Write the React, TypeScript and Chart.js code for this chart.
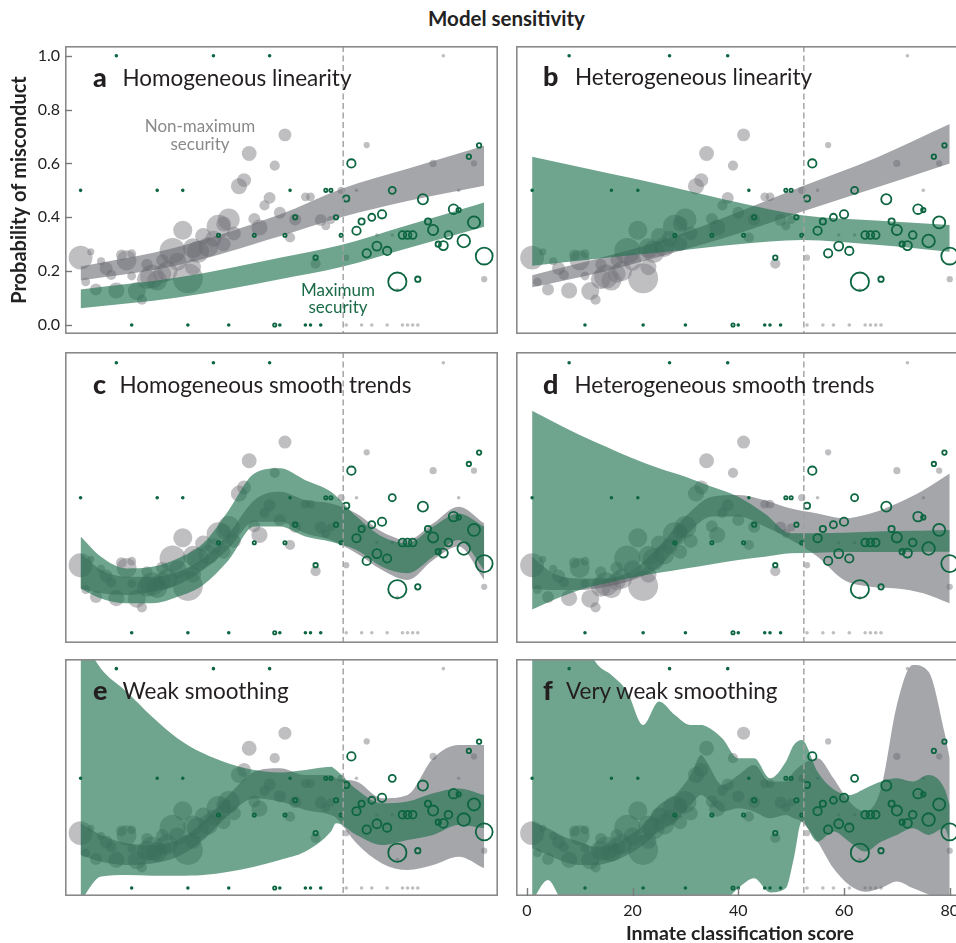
import React, { useEffect, useRef } from "react";
import { Chart, registerables } from "chart.js";

Chart.register(...registerables);

// ---------------- data ----------------
// Maximum-security inmates: score, misconduct rate, group size
const maxScore = [8, 27, 38, 1, 16, 21, 42, 49, 50, 11, 22, 30, 39, 40, 45, 46, 48, 28, 35, 41, 52, 43, 51, 47,
  54, 53, 62, 68, 77, 79, 60, 58, 56, 55, 74, 75, 69, 70, 73, 78, 64, 65, 66, 71, 72, 76, 59, 57, 61, 80, 63, 67];
const maxRate = [1, 1, 1, 0.5, 0.5, 0.5, 0.5, 0.5, 0.5, 0, 0, 0, 0, 0, 0, 0, 0, 0.333, 0.333, 0.333, 0.333, 0.4, 0.4, 0.25,
  0.6, 0.47, 0.5, 0.467, 0.625, 0.667, 0.411, 0.4, 0.384, 0.35, 0.43, 0.427, 0.384, 0.353, 0.334, 0.381, 0.334, 0.334, 0.334,
  0.3, 0.295, 0.312, 0.293, 0.266, 0.275, 0.256, 0.161, 0.17];
const maxCount = [1, 1, 1, 1, 1, 1, 1, 2, 2, 1, 1, 1, 2, 1, 1, 1, 1, 2, 2, 2, 2, 3, 3, 3,
  8, 5, 6, 11, 3, 3, 8, 6, 5, 8, 10, 3, 5, 11, 7, 15, 7, 7, 7, 4, 9, 16, 9, 8, 8, 27, 31, 4];

// Non-maximum-security inmates
const nonMaxScore = [1, 2, 3, 4, 5, 6, 7, 8, 9, 10, 11, 12, 13, 14, 15, 16, 17, 18, 19,
  21, 22, 23, 24, 26, 27, 28, 30, 31, 32, 33, 34, 35, 36, 37, 38, 39, 40, 41, 42, 43, 45, 46, 47, 48, 49, 50, 52,
  53, 55, 57, 59, 62, 63, 70, 75, 78, 80, 72, 53, 56, 58, 61, 64, 65, 66, 67,
  20, 23, 25, 29, 29, 14, 17, 11];
const nonMaxRate = [0.25, 0.16, 0.272, 0.132, 0.237, 0.21, 0.186, 0.128, 0.26, 0.24, 0.182, 0.126, 0.094, 0.17, 0.18, 0.165, 0.19, 0.2, 0.275,
  0.352, 0.173, 0.285, 0.272, 0.29, 0.32, 0.365, 0.392, 0.34, 0.515, 0.538, 0.637, 0.394, 0.362, 0.444, 0.472, 0.592, 0.417, 0.706, 0.325,
  0.392, 0.476, 0.476, 0.228, 0.39, 0.368, 0.39, 0.5,
  0.25, 0.5, 0.668, 0.334, 0.334, 0.13, 0.6, 0.5, 0.6, 0.17, 1.0, 0, 0, 0, 0, 0, 0, 0, 0,
  0.235, 0.215, 0.33, 0.3, 0.375, 0.225, 0.24, 0.265];
const nonMaxCount = [44, 6, 4, 11, 5, 13, 8, 20, 9, 31, 6, 25, 8, 31, 44, 31, 25, 31, 52,
  28, 69, 31, 37, 31, 20, 44, 37, 15, 20, 15, 17, 11, 20, 8, 11, 8, 11, 13, 8, 11, 6, 6, 8, 11, 6, 5, 4,
  3, 1, 3, 1, 1, 1, 4, 1, 3, 3, 1, 1, 1, 1, 1, 1, 1, 1, 1,
  25, 20, 20, 15, 17, 10, 12, 6];

const cutoffScore = 52.4;

const xTickValues = [0, 20, 40, 60, 80];
const xTickLabels = ["0", "20", "40", "60", "80"];
const yTickValues = [0, 0.2, 0.4, 0.6, 0.8, 1.0];
const yTickLabels = ["0.0", "0.2", "0.4", "0.6", "0.8", "1.0"];

// ---- fitted bands (lower / upper) per panel ----
// a: homogeneous linearity
const aX = [1, 20, 40, 52, 65, 80];
const aNonMaxLo = [0.165, 0.222, 0.33, 0.4, 0.46, 0.517];
const aNonMaxHi = [0.217, 0.29, 0.41, 0.505, 0.58, 0.666];
const aMaxLo = [0.062, 0.102, 0.17, 0.215, 0.285, 0.365];
const aMaxHi = [0.132, 0.176, 0.25, 0.297, 0.37, 0.455];
// b: heterogeneous linearity
const bX = [1, 15, 28, 40, 52, 66, 80];
const bNonMaxLo = [0.14, 0.2, 0.27, 0.34, 0.421, 0.51, 0.6];
const bNonMaxHi = [0.185, 0.255, 0.33, 0.42, 0.514, 0.62, 0.746];
const bMaxLo = [0.22, 0.25, 0.275, 0.3, 0.316, 0.298, 0.272];
const bMaxHi = [0.625, 0.565, 0.51, 0.455, 0.408, 0.388, 0.371];
// c: homogeneous smooth trends
const cX = [1, 5, 10, 15, 20, 25, 30, 35, 40, 45, 50, 55, 60, 65, 70, 75, 80];
const cNonMaxLo = [0.164, 0.146, 0.14, 0.152, 0.177, 0.232, 0.312, 0.411, 0.411, 0.368, 0.343, 0.294, 0.232, 0.195, 0.269, 0.319, 0.195];
const cNonMaxHi = [0.294, 0.232, 0.207, 0.207, 0.226, 0.275, 0.368, 0.491, 0.522, 0.491, 0.479, 0.442, 0.374, 0.343, 0.405, 0.467, 0.405];
const cMaxLo = [0.164, 0.127, 0.109, 0.109, 0.133, 0.177, 0.269, 0.393, 0.393, 0.356, 0.337, 0.306, 0.244, 0.22, 0.281, 0.343, 0.232];
const cMaxHi = [0.356, 0.281, 0.238, 0.244, 0.275, 0.331, 0.454, 0.59, 0.609, 0.565, 0.522, 0.43, 0.356, 0.331, 0.393, 0.442, 0.393];
// d: heterogeneous smooth trends
const dX = [1, 5, 10, 15, 20, 25, 30, 35, 40, 45, 50, 55, 60, 65, 70, 75, 80];
const dNonMaxLo = [0.164, 0.158, 0.158, 0.17, 0.195, 0.244, 0.356, 0.43, 0.43, 0.393, 0.343, 0.281, 0.195, 0.17, 0.164, 0.146, 0.109];
const dNonMaxHi = [0.281, 0.22, 0.201, 0.201, 0.232, 0.319, 0.43, 0.504, 0.51, 0.491, 0.46, 0.442, 0.424, 0.442, 0.479, 0.528, 0.59];
const dMaxLo = [0.086, 0.121, 0.158, 0.183, 0.205, 0.222, 0.238, 0.254, 0.269, 0.281, 0.294, 0.296, 0.299, 0.299, 0.299, 0.3, 0.3];
const dMaxHi = [0.822, 0.781, 0.732, 0.689, 0.646, 0.609, 0.578, 0.541, 0.504, 0.442, 0.368, 0.368, 0.37, 0.374, 0.377, 0.378, 0.38];
// e: weak smoothing
const eX = [1, 5, 10, 15, 20, 25, 30, 35, 40, 45, 50, 51, 55, 60, 65, 70, 75, 80];
const eNonMaxLo = [0.15, 0.12, 0.105, 0.112, 0.143, 0.219, 0.333, 0.409, 0.394, 0.356, 0.333, 0.32, 0.204, 0.112, 0.082, 0.105, 0.143, 0.09];
const eNonMaxHi = [0.295, 0.242, 0.204, 0.196, 0.219, 0.302, 0.424, 0.53, 0.546, 0.515, 0.515, 0.5, 0.485, 0.409, 0.424, 0.591, 0.652, 0.652];
const eMaxLo = [-0.06, 0.052, 0.059, 0.056, 0.056, 0.059, 0.074, 0.097, 0.128, 0.166, 0.257, 0.295, 0.242, 0.196, 0.219, 0.242, 0.287, 0.272];
const eMaxHi = [1.15, 1.0, 0.895, 0.781, 0.682, 0.614, 0.568, 0.538, 0.527, 0.538, 0.553, 0.538, 0.45, 0.386, 0.394, 0.432, 0.454, 0.424];
// f: very weak smoothing
const fX = [1, 4, 7, 10, 13, 16, 19, 22, 25, 28, 31, 33, 34, 37, 40, 43, 46, 49, 50.5, 52, 55, 58, 61, 64, 67, 70, 73, 76, 79, 80];
const fNonMaxLo = [0.181, 0.15, 0.12, 0.105, 0.105, 0.12, 0.15, 0.196, 0.257, 0.302, 0.378, 0.424, 0.409, 0.348, 0.363, 0.348, 0.318, 0.333, 0.318, 0.302,
  0.211, 0.09, 0.014, -0.017, 0.0, 0.03, 0.0, -0.03, -0.06, -0.04];
const fNonMaxHi = [0.302, 0.272, 0.234, 0.211, 0.188, 0.196, 0.234, 0.287, 0.378, 0.424, 0.515, 0.606, 0.576, 0.47, 0.515, 0.561, 0.485, 0.485, 0.53, 0.561,
  0.591, 0.5, 0.394, 0.348, 0.454, 0.834, 1.017, 0.986, 0.71, 0.591];
const fMaxLo = [-0.06, 0.036, -0.06, -0.06, -0.06, -0.06, -0.06, -0.06, -0.06, -0.06, -0.06, -0.06, -0.06, -0.06, 0.0, 0.044, -0.02, 0.0, 0.135, 0.302,
  0.211, 0.257, 0.211, 0.166, 0.211, 0.242, 0.272, 0.242, 0.272, 0.211];
const fMaxHi = [1.2, 1.2, 1.2, 1.2, 1.03, 0.971, 0.895, 0.743, 0.85, 0.789, 0.743, 0.743, 0.736, 0.682, 0.591, 0.591, 0.5, 0.576, 0.652, 0.675,
  0.53, 0.45, 0.424, 0.454, 0.485, 0.5, 0.485, 0.515, 0.454, 0.378];

const panelLetters = ["a", "b", "c", "d", "e", "f"];
const panelTitles = [
  "Homogeneous linearity",
  "Heterogeneous linearity",
  "Homogeneous smooth trends",
  "Heterogeneous smooth trends",
  "Weak smoothing",
  "Very weak smoothing",
];

// ---------------- styling / layout ----------------
const FONT = "Lato, 'Open Sans', 'DejaVu Sans', sans-serif";
const GREEN_FILL = "rgba(30,112,78,0.64)";
const GRAY_FILL = "rgba(100,101,108,0.58)";
const GRAY_POINT = "rgba(118,118,126,0.47)";
const GREEN_STROKE = "#0d6641";
const X_MIN = -2.05;
const X_MAX = 82.7;

const ROW_Y = [
  { min: -0.0334, max: 1.036 },
  { min: -0.038, max: 1.0396 },
  { min: -0.0365, max: 1.044 },
];

const BOXES = [
  { left: 0, top: 46, width: 498, height: 288 },
  { left: 516, top: 46, width: 448, height: 288 },
  { left: 65, top: 352, width: 433, height: 291 },
  { left: 516, top: 352, width: 448, height: 291 },
  { left: 65, top: 659, width: 433, height: 237 },
  { left: 516, top: 659, width: 448, height: 284 },
];

const LABEL_POS = [
  { letter: 93, text: 122.5, base: 87 },
  { letter: 543, text: 575, base: 86 },
  { letter: 93, text: 119.5, base: 394 },
  { letter: 543, text: 574.5, base: 394 },
  { letter: 93, text: 122.5, base: 700 },
  { letter: 543, text: 566, base: 700 },
];

const bandSets = [
  [aX, aNonMaxLo, aNonMaxHi, aMaxLo, aMaxHi],
  [bX, bNonMaxLo, bNonMaxHi, bMaxLo, bMaxHi],
  [cX, cNonMaxLo, cNonMaxHi, cMaxLo, cMaxHi],
  [dX, dNonMaxLo, dNonMaxHi, dMaxLo, dMaxHi],
  [eX, eNonMaxLo, eNonMaxHi, eMaxLo, eMaxHi],
  [fX, fNonMaxLo, fNonMaxHi, fMaxLo, fMaxHi],
];

const zip = (xs: number[], ys: number[]) => xs.map((x, i) => ({ x, y: ys[i] }));
const grayRadius = (n: number) => 1.8 * Math.sqrt(n);
const greenRadius = (n: number) => 1.8 * Math.sqrt(n) - 0.9;

const framePlugin = {
  id: "frame",
  afterDatasetsDraw(chart: any) {
    const { ctx, chartArea: a, scales } = chart;
    const x = scales.x.getPixelForValue(cutoffScore);
    ctx.save();
    ctx.beginPath();
    ctx.rect(a.left, a.top, a.right - a.left, a.bottom - a.top);
    ctx.clip();
    ctx.setLineDash([6, 3.5]);
    ctx.strokeStyle = "rgba(160,160,162,0.95)";
    ctx.lineWidth = 1.5;
    ctx.beginPath();
    ctx.moveTo(x, a.top);
    ctx.lineTo(x, a.bottom);
    ctx.stroke();
    ctx.restore();
  },
  afterDraw(chart: any) {
    const { ctx, chartArea: a, scales } = chart;
    const opts = chart.options.plugins.frame || {};
    ctx.save();
    ctx.strokeStyle = "#8a8a8c";
    ctx.lineWidth = 1.6;
    ctx.strokeRect(a.left + 0.8, a.top + 0.8, a.right - a.left - 1.6, a.bottom - a.top - 1.6);
    ctx.lineWidth = 1.4;
    ctx.strokeStyle = "#7a7a7a";
    if (opts.yTicks) {
      yTickValues.forEach((v) => {
        const y = Math.round(scales.y.getPixelForValue(v)) + 0.5;
        ctx.beginPath();
        ctx.moveTo(a.left, y);
        ctx.lineTo(a.left + 7, y);
        ctx.stroke();
      });
    }
    if (opts.xTicks) {
      xTickValues.forEach((v) => {
        const x = Math.round(scales.x.getPixelForValue(v)) + 0.5;
        ctx.beginPath();
        ctx.moveTo(x, a.bottom);
        ctx.lineTo(x, a.bottom - 8);
        ctx.stroke();
      });
    }
    ctx.restore();
  },
};

function buildConfig(i: number): any {
  const [bx, gLo, gHi, mLo, mHi] = bandSets[i];
  const row = ROW_Y[Math.floor(i / 2)];
  const showY = i === 0;
  const showX = i === 5;
  const band = (ys: number[], fill: any, color: string, order: number) => ({
    type: "line",
    data: zip(bx, ys),
    borderWidth: 0,
    borderColor: "rgba(0,0,0,0)",
    backgroundColor: color,
    pointRadius: 0,
    fill,
    cubicInterpolationMode: "monotone",
    order,
  });
  return {
    type: "scatter",
    data: {
      datasets: [
        {
          type: "scatter",
          data: zip(maxScore, maxRate),
          pointRadius: maxCount.map(greenRadius),
          pointBackgroundColor: "rgba(0,0,0,0)",
          pointBorderColor: GREEN_STROKE,
          pointBorderWidth: 1.8,
          order: 0,
        },
        band(mLo, false, GREEN_FILL, 1),
        band(mHi, "-1", GREEN_FILL, 1),
        band(gLo, false, GRAY_FILL, 2),
        band(gHi, "-1", GRAY_FILL, 2),
        {
          type: "scatter",
          data: zip(nonMaxScore, nonMaxRate),
          pointRadius: nonMaxCount.map(grayRadius),
          pointBackgroundColor: GRAY_POINT,
          pointBorderWidth: 0,
          pointBorderColor: "rgba(0,0,0,0)",
          order: 3,
        },
      ],
    },
    options: {
      responsive: false,
      maintainAspectRatio: false,
      animation: false,
      events: [],
      layout: { padding: 0, autoPadding: false },
      plugins: {
        legend: { display: false },
        tooltip: { enabled: false },
        title: { display: false },
        frame: { yTicks: showY, xTicks: showX },
      },
      scales: {
        x: {
          type: "linear",
          min: X_MIN,
          max: X_MAX,
          display: showX,
          position: "bottom",
          afterFit: (ax: any) => {
            ax.height = showX ? 47 : 0;
            ax.paddingLeft = 0;
            ax.paddingRight = 0;
          },
          afterBuildTicks: (ax: any) => {
            ax.ticks = xTickValues.map((v) => ({ value: v }));
          },
          ticks: {
            padding: 5,
            autoSkip: false,
            maxRotation: 0,
            color: "#222",
            font: { size: 16, family: FONT },
            callback: (v: any) => xTickLabels[xTickValues.indexOf(v)] ?? "",
          },
          grid: { display: false, drawTicks: false },
          border: { display: false },
          title: {
            display: showX,
            text: "Inmate classification score",
            color: "#222",
            font: { size: 19.5, weight: "bold", family: FONT, lineHeight: 1 },
            padding: { top: 0, bottom: 0 },
          },
        },
        y: {
          type: "linear",
          min: row.min,
          max: row.max,
          display: showY,
          position: "left",
          afterFit: (ax: any) => {
            ax.width = showY ? 65 : 0;
            ax.paddingTop = 0;
            ax.paddingBottom = 0;
          },
          afterBuildTicks: (ax: any) => {
            ax.ticks = yTickValues.map((v) => ({ value: v }));
          },
          ticks: {
            padding: 5,
            autoSkip: false,
            color: "#222",
            font: { size: 16, family: FONT },
            callback: (v: any) => yTickLabels[yTickValues.indexOf(v)] ?? "",
          },
          grid: { display: false, drawTicks: false },
          border: { display: false },
          title: {
            display: showY,
            text: "Probability of misconduct",
            color: "#222",
            font: { size: 20, weight: "bold", family: FONT, lineHeight: 1.2 },
            padding: { top: 8, bottom: 0 },
          },
        },
      },
    },
    plugins: [framePlugin],
  };
}

const baseTop = (baseline: number, size: number) => baseline - 0.887 * size;

export default function App() {
  const refs = useRef<(HTMLCanvasElement | null)[]>([]);

  useEffect(() => {
    Chart.defaults.font.family = FONT;
    const charts = BOXES.map((_, i) => new Chart(refs.current[i] as HTMLCanvasElement, buildConfig(i)));
    return () => charts.forEach((c) => c.destroy());
  }, []);

  const textStyle = (left: number, baseline: number, size: number, extra: any = {}) => ({
    position: "absolute" as const,
    left,
    top: baseTop(baseline, size),
    fontSize: size,
    lineHeight: 1,
    fontFamily: FONT,
    whiteSpace: "nowrap" as const,
    ...extra,
  });

  return (
    <div
      style={{
        position: "fixed",
        left: 0,
        top: 0,
        width: 956,
        height: 943,
        overflow: "hidden",
        background: "#fff",
      }}
    >
      {BOXES.map((b, i) => (
        <canvas
          key={i}
          ref={(el) => {
            refs.current[i] = el;
          }}
          width={b.width}
          height={b.height}
          style={{ position: "absolute", left: b.left, top: b.top, width: b.width, height: b.height }}
        />
      ))}
      <div
        style={{
          position: "absolute",
          left: 0,
          width: 1013,
          top: baseTop(26, 20.5),
          textAlign: "center",
          fontSize: 20.5,
          lineHeight: 1,
          fontWeight: 700,
          fontFamily: FONT,
          color: "#222",
        }}
      >
        Model sensitivity
      </div>
      {LABEL_POS.map((p, i) => (
        <React.Fragment key={i}>
          <div style={textStyle(p.letter, p.base, 27, { fontWeight: 900, color: "#231f20" })}>{panelLetters[i]}</div>
          <div style={textStyle(p.text, p.base, 22.5, { color: "#231f20" })}>{panelTitles[i]}</div>
        </React.Fragment>
      ))}
      <div
        style={{
          position: "absolute",
          left: 100,
          width: 200,
          top: baseTop(132, 17),
          textAlign: "center",
          fontSize: 17,
          lineHeight: "18px",
          fontFamily: FONT,
          color: "#8a8a8c",
        }}
      >
        Non-maximum
        <br />
        security
      </div>
      <div
        style={{
          position: "absolute",
          left: 238,
          width: 200,
          top: baseTop(296, 17),
          textAlign: "center",
          fontSize: 17,
          lineHeight: "17.5px",
          fontFamily: FONT,
          color: "#1b6b47",
        }}
      >
        Maximum
        <br />
        security
      </div>
    </div>
  );
}
